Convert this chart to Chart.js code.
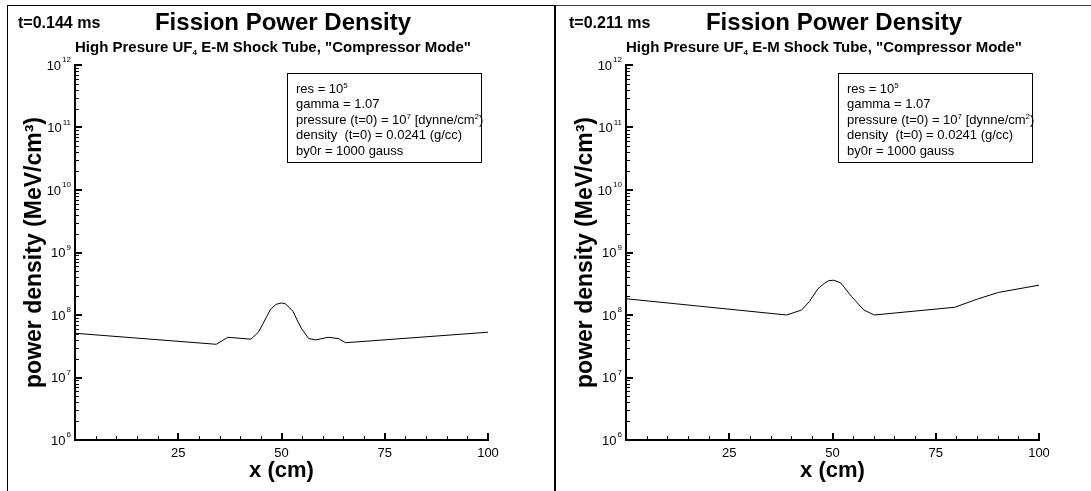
<!DOCTYPE html>
<html>
<head>
<meta charset="utf-8">
<script src="https://cdn.jsdelivr.net/npm/chart.js@4.4.0/dist/chart.umd.min.js"></script>
<style>
  body { margin: 0; background: #fff; font-family: "Liberation Sans", Arial, sans-serif; color: #000; }
  #page { position: relative; width: 1091px; height: 491px; overflow: hidden; }
  .panel { position: absolute; top: 0; width: 551px; height: 491px; }
  .panel canvas { position: absolute; left: 0; top: 0; }
  .time { position: absolute; left: 18px; top: 14px; font-size: 16px; font-weight: bold; white-space: nowrap; }
  .title { position: absolute; left: 0; width: 566px; top: 8px; text-align: center; font-size: 24px; font-weight: bold; white-space: nowrap; }
  .sub { position: absolute; left: 75px; top: 38px; font-size: 15px; font-weight: bold; white-space: nowrap; }
  .sub sub { font-size: 8px; vertical-align: -3px; }
  .box { position: absolute; left: 287px; top: 73px; width: 195px; height: 90px; border: 1px solid #000; background: #fff;
         font-size: 13px; line-height: 15.4px; padding: 7px 0 0 8px; box-sizing: border-box; white-space: nowrap; }
  .box sup { font-size: 8px; vertical-align: 5px; line-height: 0; }
  .ln { position: absolute; background: #000; }
</style>
</head>
<body>
<div id="page">
  <div class="panel" id="p1" style="left:0px">
    <canvas id="c1" width="551" height="491"></canvas>
  </div>
  <div class="panel" id="p2" style="left:551px">
    <canvas id="c2" width="551" height="491"></canvas>
  </div>
  <div class="ln" style="left:7px;top:5px;width:548px;height:1px"></div>
  <div class="ln" style="left:555px;top:5px;width:536px;height:1px;background:#444"></div>
  <div class="ln" style="left:7px;top:5px;width:1px;height:486px"></div>
  <div class="ln" style="left:554px;top:5px;width:2px;height:486px"></div>
</div>
<script>
// t = 0.144 ms
const xT144 = [0, 34.2, 37.0, 42.6, 44.4, 45.4, 46.4, 47.4, 48.7, 50.0, 51.0, 52.0, 52.8, 53.9, 54.9, 56.6, 58.3, 61.3, 63.8, 65.5, 100];
const pT144 = [5.1e7, 3.4e7, 4.4e7, 4.1e7, 5.3e7, 7.0e7, 9.4e7, 1.25e8, 1.48e8, 1.56e8, 1.5e8, 1.3e8, 1.14e8, 8.0e7, 6.0e7, 4.2e7, 4.0e7, 4.4e7, 4.2e7, 3.6e7, 5.3e7];
// t = 0.211 ms
const xT211 = [0, 38.9, 42.5, 44.4, 46.5, 48.0, 49.1, 50.3, 52.0, 54.6, 57.6, 60.1, 79.6, 85.1, 90.2, 100];
const pT211 = [1.82e8, 1.0e8, 1.2e8, 1.64e8, 2.64e8, 3.2e8, 3.55e8, 3.6e8, 3.26e8, 1.98e8, 1.2e8, 1.0e8, 1.33e8, 1.8e8, 2.3e8, 3.0e8];

const timeLabels = ["t=0.144 ms", "t=0.211 ms"];
const xMajor = [0, 25, 50, 75, 100];
const yDecades = [6, 7, 8, 9, 10, 11, 12];
const boxLines = [
  "res = 10<sup>5</sup>",
  "gamma = 1.07",
  "pressure (t=0) = 10<sup>7</sup> [dynne/cm<sup>2</sup>)",
  "density&nbsp; (t=0) = 0.0241 (g/cc)",
  "by0r = 1000 gauss"
];

const FONT = "'Liberation Sans', Arial, sans-serif";

// inward tick marks + 10^n labels on the log axis
const axisDecor = {
  id: "axisDecor",
  afterDraw(chart) {
    const { ctx, scales: { x, y } } = chart;
    ctx.save();
    ctx.strokeStyle = "#000";
    for (let v = 0; v <= 100; v += 5) {
      const px = Math.round(x.getPixelForValue(v));
      const major = v % 25 === 0;
      ctx.lineWidth = major ? 2 : 1;
      ctx.beginPath();
      ctx.moveTo(px + (major ? 0 : 0.5), y.bottom);
      ctx.lineTo(px + (major ? 0 : 0.5), y.bottom - (major ? 7 : 4));
      ctx.stroke();
    }
    yDecades.forEach((e) => {
      for (let m = 1; m < 10; m++) {
        if (e === 12 && m > 1) break;
        const py = Math.round(y.getPixelForValue(m * Math.pow(10, e)));
        const major = m === 1;
        ctx.lineWidth = major ? 2 : 1;
        ctx.beginPath();
        ctx.moveTo(x.left, py + (major ? 0 : 0.5));
        ctx.lineTo(x.left + (major ? 7 : 4), py + (major ? 0 : 0.5));
        ctx.stroke();
      }
      const py = y.getPixelForValue(Math.pow(10, e));
      ctx.fillStyle = "#000";
      ctx.textBaseline = "middle";
      ctx.textAlign = "right";
      ctx.font = "8px " + FONT;
      const exp = String(e);
      const ew = ctx.measureText(exp).width;
      const right = x.left - 4;
      ctx.fillText(exp, right, py - 5);
      ctx.font = "13px " + FONT;
      ctx.fillText("10", right - ew - 1, py + 1);
    });
    ctx.restore();
  }
};

function makePanel(canvasId, panelId, idx, xs, ys) {
  const panel = document.getElementById(panelId);
  panel.insertAdjacentHTML("beforeend",
    '<div class="time">' + timeLabels[idx] + '</div>' +
    '<div class="title">Fission Power Density</div>' +
    '<div class="sub">High Presure UF<sub>4</sub> E-M Shock Tube, "Compressor Mode"</div>' +
    '<div class="box">' + boxLines.join("<br>") + '</div>');

  new Chart(document.getElementById(canvasId), {
    type: "line",
    data: {
      datasets: [{
        data: xs.map((x, i) => ({ x: x, y: ys[i] })),
        borderColor: "#000",
        borderWidth: 1,
        pointRadius: 0,
        tension: 0,
        fill: false
      }]
    },
    options: {
      responsive: false,
      animation: false,
      events: [],
      layout: { padding: { top: 65, right: 63, left: 0, bottom: 0 } },
      plugins: { legend: { display: false }, tooltip: { enabled: false } },
      scales: {
        x: {
          type: "linear",
          min: 0,
          max: 100,
          afterBuildTicks: (s) => { s.ticks = xMajor.map((v) => ({ value: v })); },
          afterFit: (s) => { s.height = 51; },
          ticks: {
            callback: (v) => (v === 0 ? "" : String(v)),
            font: { family: FONT, size: 13 },
            color: "#000",
            padding: 6,
            maxRotation: 0,
            autoSkip: false
          },
          grid: { display: false, drawTicks: false },
          border: { display: true, color: "#000", width: 2 },
          title: {
            display: true,
            text: "x (cm)",
            color: "#000",
            font: { family: FONT, size: 22, weight: "bold" },
            padding: { top: 0, bottom: 7 }
          }
        },
        y: {
          type: "logarithmic",
          min: 1e6,
          max: 1e12,
          afterBuildTicks: (s) => { s.ticks = yDecades.map((e) => ({ value: Math.pow(10, e) })); },
          afterFit: (s) => { s.width = 75; },
          ticks: { display: false },
          grid: { display: false, drawTicks: false },
          border: { display: true, color: "#000", width: 2 },
          title: {
            display: true,
            text: "power density (MeV/cm\u00B3)",
            color: "#000",
            font: { family: FONT, size: 23, weight: "bold" },
            padding: { top: 21, bottom: 0 }
          }
        }
      }
    },
    plugins: [axisDecor]
  });
}

makePanel("c1", "p1", 0, xT144, pT144);
makePanel("c2", "p2", 1, xT211, pT211);
</script>
</body>
</html>
